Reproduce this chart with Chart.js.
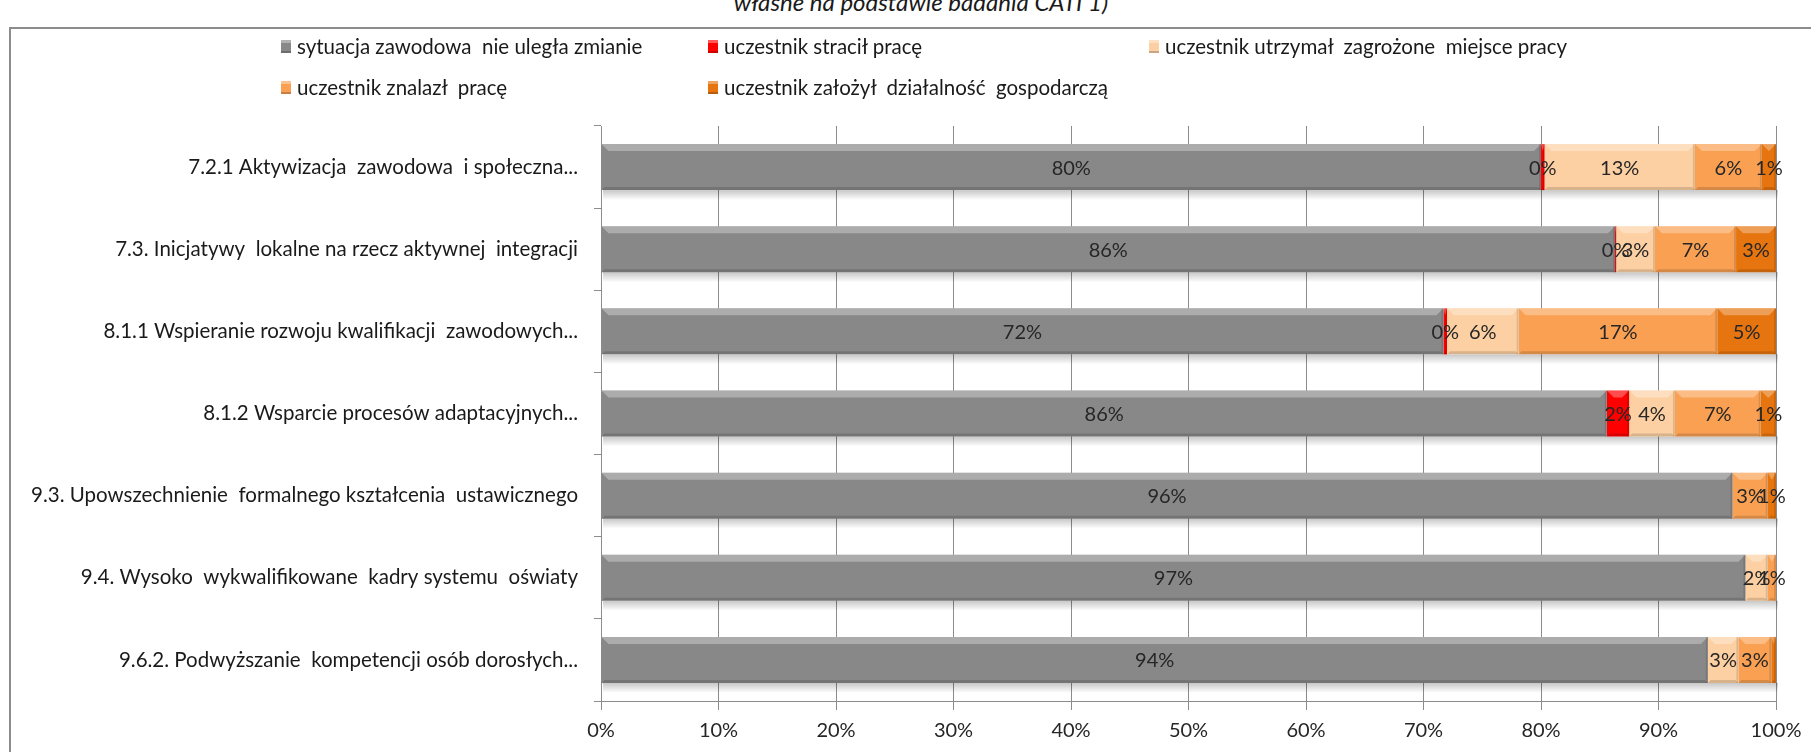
<!DOCTYPE html>
<html lang="pl">
<head>
<meta charset="utf-8">
<script src="https://cdn.jsdelivr.net/npm/chart.js@4.4.1/dist/chart.umd.min.js"></script>
<style>
    html, body { margin: 0; padding: 0; background: #fff; }
    body { width: 1811px; height: 752px; position: relative; overflow: hidden; font-family: 'Lato', 'Liberation Sans', sans-serif; }
    #frame { position: absolute; left: 9px; top: 27px; width: 1900px; height: 900px; border: 2px solid #8c8c8c; box-sizing: border-box; }
    #source { position: absolute; top: -13px; left: 0; width: 1842px; text-align: center; font-style: italic; font-size: 24px; color: #1a1a1a; }
    #progressChart { position: absolute; left: 0; top: 0; }
    #legend { position: absolute; left: 281px; top: 33px; display: grid; grid-template-columns: 427px 441px auto; row-gap: 15px; font-size: 20.5px; color: #1a1a1a; }
    #legend div { display: flex; align-items: center; height: 26px; white-space: pre; }
    #legend span { display: inline-block; width: 10px; height: 13px; margin-right: 6px; box-shadow: inset 0 3px 0 rgba(255,255,255,0.35), inset 0 -2px 0 rgba(0,0,0,0.2); }
</style>
</head>
<body>
<div id="source">własne na podstawie badania CATI 1)</div>
<div id="frame"></div>
<canvas id="progressChart" width="1811" height="752"></canvas>
<div id="legend"></div>
<script>
// Rows (priorities) and the outcome categories
const categories = [
    '7.2.1 Aktywizacja  zawodowa  i społeczna...',
    '7.3. Inicjatywy  lokalne na rzecz aktywnej  integracji',
    '8.1.1 Wspieranie rozwoju kwalifikacji  zawodowych...',
    '8.1.2 Wsparcie procesów adaptacyjnych...',
    '9.3. Upowszechnienie  formalnego kształcenia  ustawicznego',
    '9.4. Wysoko  wykwalifikowane  kadry systemu  oświaty',
    '9.6.2. Podwyższanie  kompetencji osób dorosłych...',
];
const seriesNames = [
    'sytuacja zawodowa  nie uległa zmianie',
    'uczestnik stracił pracę',
    'uczestnik utrzymał  zagrożone  miejsce pracy',
    'uczestnik znalazł  pracę',
    'uczestnik założył  działalność  gospodarczą',
];
const seriesColors = ['#888888', '#ff0000', '#fcd0a2', '#f9a052', '#e6750f'];

// Shares in percent, one value per row
const unchanged = [80.0, 86.3, 71.7, 85.6, 96.3, 97.4, 94.2];
const lostJob   = [0.3, 0.1, 0.3, 1.9, 0, 0, 0];
const keptJob   = [12.8, 3.3, 6.1, 3.9, 0, 1.9, 2.6];
const foundJob  = [5.7, 6.9, 16.9, 7.3, 3.0, 0.7, 2.8];
const business  = [1.2, 3.4, 5.0, 1.3, 0.7, 0, 0.4];

const xTicks = [0, 10, 20, 30, 40, 50, 60, 70, 80, 90, 100];

// segments too thin to carry a label: [dataset, row]
const noLabel = [[4, 6]];

const font = "'Lato', 'Liberation Sans', sans-serif";

// shadow under each stacked bar
const barShadow = {
    id: 'barShadow',
    beforeDatasetsDraw(chart) {
        const ctx = chart.ctx;
        const x = chart.scales.x;
        const first = chart.getDatasetMeta(0).data;
        ctx.save();
        first.forEach(function (bar) {
            const p = bar.getProps(['y', 'height'], true);
            const bottom = p.y + p.height / 2;
            const g = ctx.createLinearGradient(0, bottom, 0, bottom + 10);
            g.addColorStop(0, 'rgba(0,0,0,0.22)');
            g.addColorStop(1, 'rgba(0,0,0,0)');
            ctx.fillStyle = g;
            ctx.fillRect(x.getPixelForValue(0) + 2, bottom, x.getPixelForValue(100) - x.getPixelForValue(0), 10);
        });
        ctx.restore();
    },
};

// bevel highlights and value labels on the segments
const bevelLabels = {
    id: 'bevelLabels',
    afterDatasetsDraw(chart) {
        const ctx = chart.ctx;
        ctx.save();
        chart.data.datasets.forEach(function (ds, di) {
            chart.getDatasetMeta(di).data.forEach(function (bar, i) {
                const v = ds.data[i];
                if (!v) return;
                const p = bar.getProps(['x', 'base', 'y', 'height'], true);
                const left = Math.min(p.x, p.base), right = Math.max(p.x, p.base);
                const top = p.y - p.height / 2, bottom = p.y + p.height / 2;
                const w = right - left;
                const b = Math.min(7, w / 2);
                // top face
                ctx.fillStyle = 'rgba(255,255,255,0.3)';
                ctx.beginPath();
                ctx.moveTo(left, top); ctx.lineTo(right, top);
                ctx.lineTo(right - b, top + 7); ctx.lineTo(left + b, top + 7);
                ctx.closePath(); ctx.fill();
                // bottom face
                ctx.fillStyle = 'rgba(0,0,0,0.14)';
                ctx.beginPath();
                ctx.moveTo(left, bottom); ctx.lineTo(right, bottom);
                ctx.lineTo(right - Math.min(3, w / 2), bottom - 3); ctx.lineTo(left + Math.min(3, w / 2), bottom - 3);
                ctx.closePath(); ctx.fill();
                // right edge
                ctx.fillStyle = 'rgba(0,0,0,0.12)';
                ctx.fillRect(right - Math.min(2, w / 2), top, Math.min(2, w / 2), p.height);
            });
        });
        ctx.font = '20px ' + font;
        ctx.fillStyle = '#262626';
        ctx.textAlign = 'center';
        ctx.textBaseline = 'middle';
        chart.data.datasets.forEach(function (ds, di) {
            chart.getDatasetMeta(di).data.forEach(function (bar, i) {
                const v = ds.data[i];
                if (!v) return;
                if (noLabel.some(function (n) { return n[0] === di && n[1] === i; })) return;
                const p = bar.getProps(['x', 'base', 'y'], true);
                ctx.fillText(Math.round(v) + '%', (p.x + p.base) / 2, p.y + 1);
            });
        });
        ctx.restore();
    },
};

const ctx = document.getElementById('progressChart').getContext('2d');
const seriesData = [unchanged, lostJob, keptJob, foundJob, business];

const progressChart = new Chart(ctx, {
    type: 'bar',
    data: {
        labels: categories,
        datasets: seriesData.map(function (d, k) {
            return {
                label: seriesNames[k],
                data: d,
                backgroundColor: seriesColors[k],
                borderWidth: 0,
                barPercentage: 0.56,
                categoryPercentage: 1,
            };
        }),
    },
    options: {
        indexAxis: 'y',
        responsive: false,
        animation: false,
        devicePixelRatio: 1,
        layout: { padding: { top: 126, right: 35, left: 0, bottom: 0 } },
        plugins: {
            legend: { display: false },
            tooltip: { enabled: false },
        },
        scales: {
            x: {
                stacked: true,
                min: 0,
                max: 100,
                afterFit(scale) { scale.height = 51; },
                afterBuildTicks(scale) { scale.ticks = xTicks.map(function (v) { return { value: v }; }); },
                ticks: {
                    callback: function (v) { return v + '%'; },
                    font: { family: font, size: 20 },
                    color: '#262626',
                    padding: 9,
                    maxRotation: 0,
                },
                grid: { color: '#8c8c8c', lineWidth: 1, tickLength: 9, drawTicks: true },
                border: { color: '#8c8c8c', width: 1 },
            },
            y: {
                stacked: true,
                afterFit(scale) { scale.width = 601; },
                ticks: {
                    font: { family: font, size: 20.5 },
                    color: '#1a1a1a',
                    padding: 16,
                    autoSkip: false,
                },
                grid: { offset: true, drawOnChartArea: false, color: '#8c8c8c', tickLength: 7 },
                border: { color: '#8c8c8c', width: 1 },
            },
        },
    },
    plugins: [barShadow, bevelLabels],
});

// legend built from the datasets
const legendBox = document.getElementById('legend');
progressChart.data.datasets.forEach(function (ds) {
    const item = document.createElement('div');
    const swatch = document.createElement('span');
    swatch.style.background = ds.backgroundColor;
    item.appendChild(swatch);
    item.appendChild(document.createTextNode(ds.label));
    legendBox.appendChild(item);
});
</script>
</body>
</html>
